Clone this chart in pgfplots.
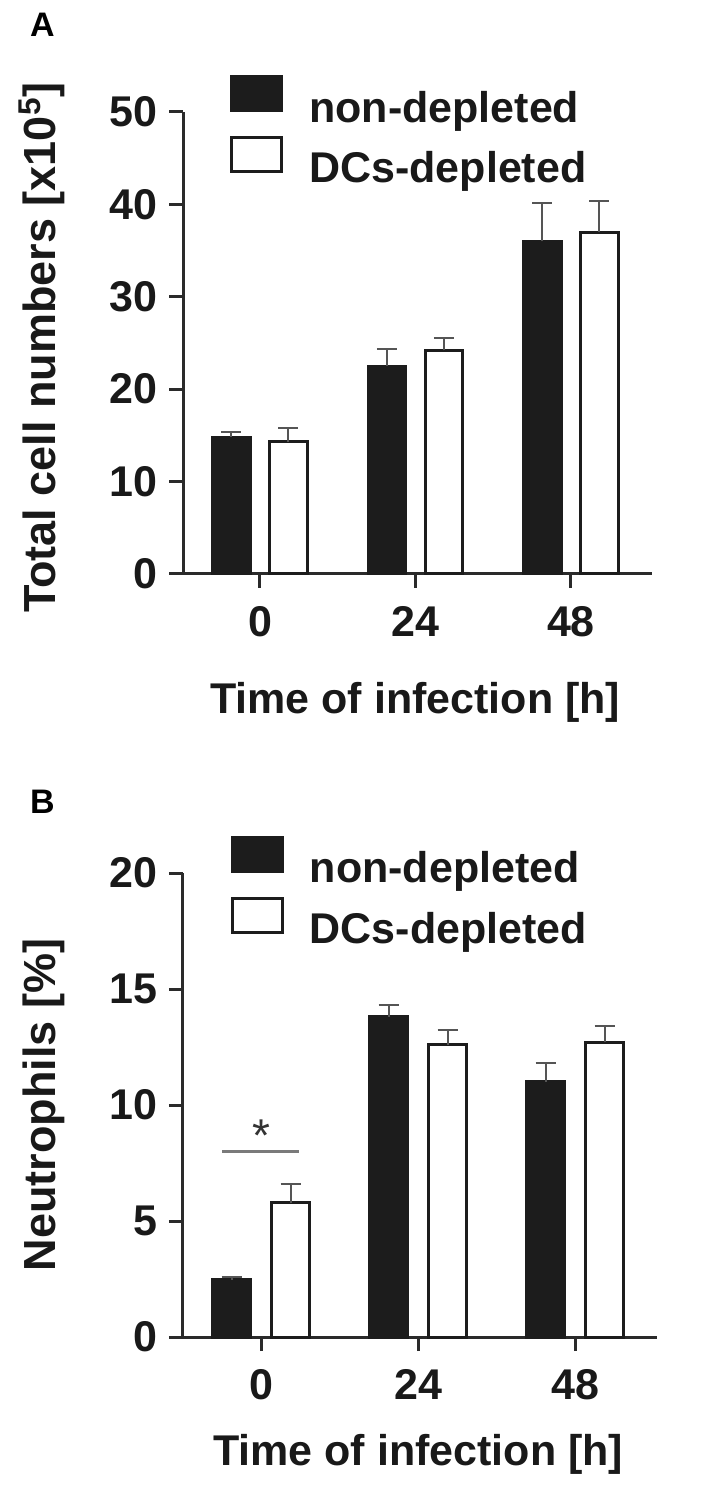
\documentclass[border=0pt]{standalone}
\usepackage{fontspec}
\setmainfont{Liberation Sans}
\usepackage{pgfplots}
\pgfplotsset{compat=1.18}
\definecolor{barblack}{HTML}{1C1C1C}
\definecolor{axisgray}{HTML}{2A2A2A}
\definecolor{errgray}{HTML}{555555}
\definecolor{siggray}{HTML}{7A7A7A}
\pgfplotsset{
  panel/.style={
    scale only axis,
    axis x line=bottom, axis y line=left,
    x axis line style={-, line width=1.5pt, color=axisgray, shorten <=-6.5pt},
    y axis line style={-, line width=1.5pt, color=axisgray},
    tick style={line width=1.5pt, color=axisgray},
    tick align=outside,
    major tick length=7pt,
    xtick={0,1,2}, xticklabels={0,24,48},
    ymin=0,
    ybar, bar width=18.75pt,
    /pgf/number format/assume math mode=true,
    ticklabel style={font=\bfseries\fontsize{21.5}{25}\selectfont, text=black!90},
    xticklabel style={yshift=-5.5pt},
    yticklabel style={xshift=-2.5pt},
    label style={font=\bfseries\fontsize{21.5}{25}\selectfont, text=black!90},
    ylabel style={font=\bfseries\fontsize{22.5}{25}\selectfont},
    clip=false,
    legend style={draw=none, fill=none, inner sep=0pt, anchor=north west,
      font=\bfseries\fontsize{21.5}{25}\selectfont, text=black!90,
      nodes={inner sep=1pt}, row sep=4.5pt, column sep=12pt},
    legend cell align=left,
    legend image code/.code={\draw[##1, line width=1.5pt] (0pt,-1.5pt) rectangle (25pt,15.5pt);},
  },
  blk/.style={fill=barblack, draw=barblack, line width=1.5pt, bar shift=-14.25pt},
  wht/.style={fill=white, draw=barblack, line width=1.5pt, bar shift=14.25pt},
  eb/.style={error bars/.cd, y dir=plus, y explicit,
    error bar style={line width=1pt, color=errgray},
    error mark options={rotate=90, line width=1pt, color=errgray, mark size=5pt}},
}
\begin{document}
\begin{tikzpicture}
\path[use as bounding box] (0,0) rectangle (354.5pt,745pt);
\node[font=\bfseries\fontsize{17}{18}\selectfont] at (21.25pt,732.5pt) {A};
\node[font=\bfseries\fontsize{17}{18}\selectfont] at (21.25pt,344pt) {B};
% Panel A
\begin{axis}[panel, at={(91.5pt,458pt)}, anchor=south west,
  width=234.5pt, height=231pt,
  xmin=-0.495, xmax=2.521, ymax=50, ytick={0,10,20,30,40,50},
  ylabel={Total cell numbers [x10\textsuperscript{5}]},
  ylabel style={at={(axis description cs:-0.271,0.49)}, anchor=base},
  xlabel={Time of infection [h]},
  xlabel style={at={(axis description cs:0.495,-0.301)}, anchor=base},
  legend style={at={(axis description cs:0.1,1.08)}},
]
\addplot[blk, eb] coordinates {(0,14.8) +- (0,0.55) (1,22.5) +- (0,1.8) (2,36.0) +- (0,4.1)};
\addplot[wht, eb] coordinates {(0,14.3) +- (0,1.5) (1,24.2) +- (0,1.3) (2,37.0) +- (0,3.4)};
\legend{non-depleted, DCs-depleted}
\end{axis}
% Panel B
\begin{axis}[panel, at={(91.5pt,76.5pt)}, anchor=south west,
  width=237pt, height=232pt,
  xmin=-0.497, xmax=2.522, ymax=20, ytick={0,5,10,15,20},
  ylabel={Neutrophils [\%]},
  ylabel style={at={(axis description cs:-0.268,0.5)}, anchor=base},
  xlabel={Time of infection [h]},
  xlabel style={at={(axis description cs:0.496,-0.276)}, anchor=base},
  legend style={at={(axis description cs:0.1,1.08)}},
]
\addplot[blk, bar shift=-14.75pt, eb] coordinates {(0,2.46) +- (0,0.14) (1,13.8) +- (0,0.5) (2,11.0) +- (0,0.8)};
\addplot[wht, bar shift=14.75pt, eb] coordinates {(0,5.78) +- (0,0.8) (1,12.6) +- (0,0.65) (2,12.7) +- (0,0.7)};
\legend{non-depleted, DCs-depleted}
\draw[siggray, line width=1.2pt] (axis cs:-0.248,8.0) -- (axis cs:0.242,8.0);
\node[anchor=base, inner sep=0pt, font=\fontsize{23}{25}\selectfont, text=black!80] at (axis cs:0,8.0) {*};
\end{axis}
\end{tikzpicture}
\end{document}
